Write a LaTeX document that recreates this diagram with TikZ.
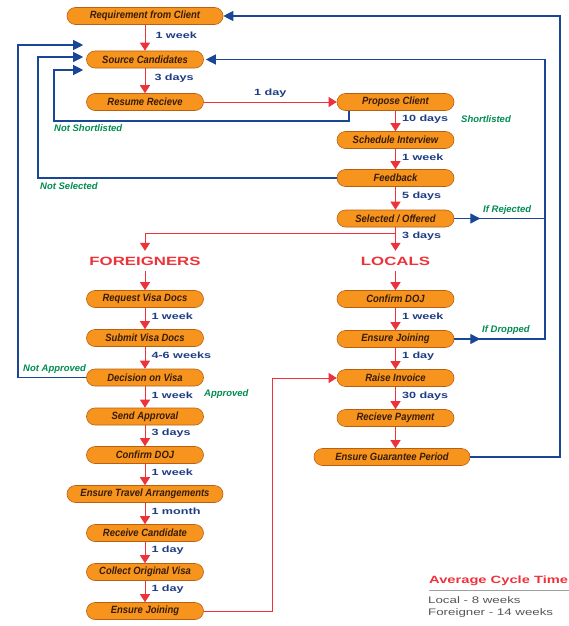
\documentclass[tikz,border=0pt]{standalone}
\usepackage{fontspec}
\setmainfont{Liberation Sans}
\newfontfamily\boxfont[FakeStretch=0.9]{Liberation Sans}
\newfontfamily\widefont[FakeStretch=1.4]{Liberation Sans}
\usetikzlibrary{arrows.meta}
\usetikzlibrary{decorations.markings}
\definecolor{boxorange}{RGB}{247,148,29}
\definecolor{boxedge}{RGB}{185,95,20}
\definecolor{boxtext}{RGB}{55,28,10}
\definecolor{flowred}{RGB}{237,50,58}
\definecolor{backblue}{RGB}{25,70,150}
\definecolor{durblue}{RGB}{30,60,130}
\definecolor{notegreen}{RGB}{0,140,80}
\definecolor{legendgray}{RGB}{85,85,85}
\definecolor{rulegray}{RGB}{160,160,160}
\begin{document}
\begin{tikzpicture}[x=1pt,y=-1pt,
	stage/.style={draw=boxedge,line width=0.6pt,fill=boxorange,rounded corners=8.5pt,minimum width=117pt,minimum height=17pt,inner sep=0pt,text=boxtext,font=\boxfont\bfseries\itshape\fontsize{10.5}{12}\selectfont},
	widestage/.style={stage,minimum width=156pt},
	branch/.style={text=flowred,minimum height=20pt,inner sep=0pt,font=\widefont\bfseries\fontsize{12}{14}\selectfont},
	flow/.style={draw=flowred,line width=1pt,-{Triangle[width=10pt,length=8pt]}},
	back/.style={draw=backblue,line width=1.2pt,-{Triangle[width=10pt,length=10pt]}},
	midtip/.style={postaction={decorate},decoration={markings,mark=at position 26pt with {\arrow{Triangle[width=10pt,length=10pt]}}}},
	dur/.style={text=durblue,inner sep=0pt,font=\widefont\bfseries\fontsize{9}{11}\selectfont},
	durside/.style={dur,anchor=west,xshift=6pt,pos=0.4},
	remark/.style={text=notegreen,anchor=west,inner sep=0pt,font=\bfseries\itshape\fontsize{9.5}{11}\selectfont},
	heading/.style={text=flowred,anchor=west,inner sep=0pt,font=\widefont\bfseries\fontsize{10.5}{12}\selectfont},
	legend/.style={text=legendgray,anchor=west,inner sep=0pt,font=\widefont\fontsize{9.5}{11}\selectfont}]
	\useasboundingbox (0,0) rectangle (569,626);
	\node[widestage] (req) at (145,16) {Requirement from Client};
	\node[stage] (src) at (145,59.5) {Source Candidates};
	\node[stage] (res) at (145,102) {Resume Recieve};
	\node[stage] (prop) at (395.5,102) {Propose Client};
	\node[stage] (sched) at (395.5,140) {Schedule Interview};
	\node[stage] (fb) at (395.5,178) {Feedback};
	\node[stage] (sel) at (395.5,218.5) {Selected / Offered};
	\node[branch] (frn) at (145,261) {FOREIGNERS};
	\node[branch] (loc) at (395.5,261) {LOCALS};
	\node[stage] (visreq) at (145,299) {Request Visa Docs};
	\node[stage] (vissub) at (145,338) {Submit Visa Docs};
	\node[stage] (visdec) at (145,377.5) {Decision on Visa};
	\node[stage] (approve) at (145,416.5) {Send Approval};
	\node[stage] (dojf) at (145,455) {Confirm DOJ};
	\node[widestage] (travel) at (145,494) {Ensure Travel Arrangements};
	\node[stage] (arrive) at (145,533) {Receive Candidate};
	\node[stage] (visa) at (145,572) {Collect Original Visa};
	\node[stage] (joinf) at (145,611) {Ensure Joining};
	\node[stage] (dojl) at (395.5,299) {Confirm DOJ};
	\node[stage] (joinl) at (395.5,339) {Ensure Joining};
	\node[stage] (invoice) at (395.5,378) {Raise Invoice};
	\node[stage] (payment) at (395.5,418) {Recieve Payment};
	\node[widestage] (guar) at (392,457) {Ensure Guarantee Period};
	\coordinate (split) at (395.5,233);
	\draw[flow] (req) -- node[durside,xshift=4pt] {1 week} (src);
	\draw[flow] (src) -- node[durside,xshift=3pt] {3 days} (res);
	\draw[flow] (res) -- node[dur,anchor=south,yshift=4pt,midway] {1 day} (prop);
	\draw[flow] (prop) -- node[durside] {10 days} (sched);
	\draw[flow] (sched) -- node[durside] {1 week} (fb);
	\draw[flow] (fb) -- node[durside] {5 days} (sel);
	\draw[flow] (sel) -- node[durside,pos=0.375] {3 days} (loc);
	\draw[flow] (split) -| (frn);
	\draw[flow] (frn) -- (visreq);
	\draw[flow] (loc) -- (dojl);
	\draw[flow] (visreq) -- node[durside] {1 week} (vissub);
	\draw[flow] (vissub) -- node[durside] {4-6 weeks} (visdec);
	\draw[flow] (visdec) -- node[durside] {1 week} (approve);
	\draw[flow] (approve) -- node[durside] {3 days} (dojf);
	\draw[flow] (dojf) -- node[durside] {1 week} (travel);
	\draw[flow] (travel) -- node[durside] {1 month} (arrive);
	\draw[flow] (arrive) -- node[durside] {1 day} (visa);
	\draw[flow] (visa) -- node[durside] {1 day} (joinf);
	\draw[flow] (joinf) -| ([xshift=-64pt]invoice.west) -- (invoice);
	\draw[flow] (dojl) -- node[durside] {1 week} (joinl);
	\draw[flow] (joinl) -- node[durside] {1 day} (invoice);
	\draw[flow] (invoice) -- node[durside] {30 days} (payment);
	\draw[flow] (payment) -- (payment |- guar.north);
	\draw[back] (guar) -| (560,16) -- (req);
	\draw[back,midtip] (sel) -- (545,218.5) |- ([xshift=2pt]src.east);
	\draw[back,-,midtip] (joinl) -| (545,218.5);
	\draw[back] ([xshift=-46.5pt]prop.south) |- (54,121) |- ([xshift=-3pt,yshift=-10.5pt]src.west);
	\draw[back] (fb) -| (38,57) -- ([xshift=-3pt,yshift=2.5pt]src.west);
	\draw[back] (visdec) -| (18,45) -- ([xshift=-3pt,yshift=14.5pt]src.west);
	\node[remark] (shortlisted) at (461,119) {Shortlisted};
	\node[remark] (notshort) at (54,128) {Not Shortlisted};
	\node[remark] (notsel) at (40,186) {Not Selected};
	\node[remark] (rejected) at (483,210) {If Rejected};
	\node[remark] (dropped) at (482,330) {If Dropped};
	\node[remark] (notappr) at (23,369) {Not Approved};
	\node[remark] (approved) at (204,394) {Approved};
	\node[heading] (avg) at (429,581) {Average Cycle Time};
	\draw[draw=rulegray,line width=0.6pt] ([yshift=-4pt]avg.south west) -- ++(140,0);
	\node[legend] (loctime) at (428,600) {Local - 8 weeks};
	\node[legend] (fortime) at (428,613) {Foreigner - 14 weeks};
\end{tikzpicture}
\end{document}
